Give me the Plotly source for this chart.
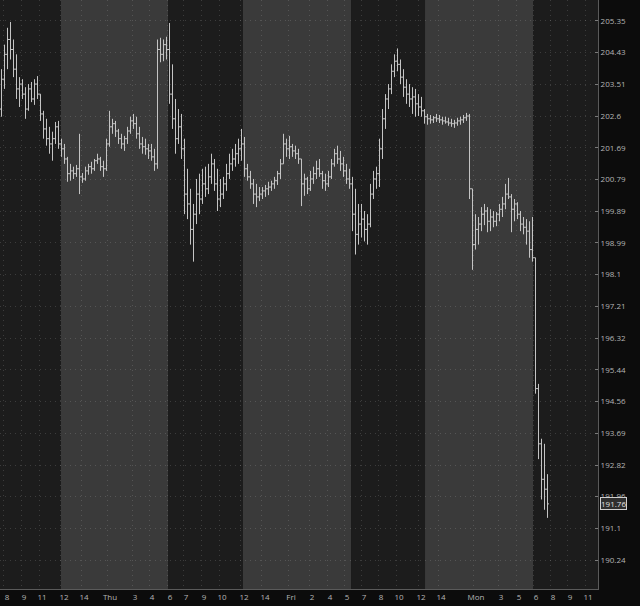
import numpy as np
import plotly.graph_objects as go

# OHLC bars, one entry per bar
bar_open = [
    202.80, 203.66, 204.38, 204.81, 204.52, 203.95, 203.38, 203.52, 203.23, 202.80,
    203.38, 203.09, 203.52, 203.23, 202.66, 202.23, 201.95, 201.80, 201.95, 202.29,
    201.80, 201.66, 201.37, 200.95, 201.03, 200.95, 201.09, 200.86, 200.80, 201.03,
    201.15, 201.09, 201.32, 201.37, 201.15, 201.09, 201.80, 202.29, 202.38, 202.17,
    201.95, 201.80, 201.95, 202.17, 202.46, 202.38, 202.09, 201.80, 201.72, 201.66,
    201.60, 201.43, 201.23, 204.52, 204.38, 204.66, 204.52, 203.23, 202.52, 201.95,
    202.29, 201.66, 200.37, 200.09, 199.37, 199.80, 200.37, 200.23, 200.66, 200.52,
    200.86, 201.23, 200.66, 200.23, 200.37, 200.66, 200.95, 201.23, 201.37, 201.52,
    201.66, 201.80, 201.09, 200.86, 200.66, 200.37, 200.29, 200.37, 200.46, 200.52,
    200.57, 200.66, 200.75, 200.95, 201.23, 201.80, 201.66, 201.72, 201.60, 201.52,
    201.37, 200.66, 200.80, 200.52, 200.80, 200.95, 201.09, 200.95, 200.75, 200.66,
    200.86, 201.23, 201.52, 201.37, 201.23, 201.03, 200.80, 200.66, 199.80, 199.23,
    199.52, 199.66, 199.37, 199.52, 200.37, 200.80, 200.95, 201.66, 202.52, 203.09,
    203.38, 203.89, 204.18, 204.09, 203.72, 203.43, 203.23, 203.09, 203.15, 202.95,
    202.86, 202.75, 202.58, 202.52, 202.49, 202.55, 202.52, 202.49, 202.46, 202.43,
    202.40, 202.38, 202.40, 202.46, 202.49, 202.55, 202.60, 200.52, 198.94, 199.37,
    199.52, 199.80, 199.89, 199.60, 199.72, 199.60, 199.80, 199.94, 200.09, 200.37,
    200.29, 199.94, 200.09, 199.80, 199.52, 199.43, 199.32, 198.80, 198.57, 194.92,
    193.40, 192.43, 192.16,
]
bar_high = [
    203.95, 204.66, 205.15, 205.32, 204.81, 204.38, 203.72, 203.66, 203.43, 203.52,
    203.58, 203.66, 203.75, 203.23, 202.75, 202.52, 202.29, 202.15, 202.43, 202.46,
    201.95, 201.80, 201.43, 201.23, 201.15, 201.20, 202.09, 200.97, 201.15, 201.23,
    201.29, 201.37, 201.52, 201.43, 201.32, 201.95, 202.75, 202.52, 202.46, 202.23,
    202.09, 202.03, 202.29, 202.58, 202.66, 202.58, 202.29, 202.00, 201.95, 201.80,
    201.80, 201.66, 204.81, 204.86, 204.81, 204.89, 205.29, 204.09, 203.09, 202.80,
    202.66, 201.95, 201.09, 200.52, 200.09, 200.80, 200.95, 201.09, 201.15, 201.23,
    201.52, 201.37, 201.09, 200.80, 200.86, 201.23, 201.52, 201.66, 201.80, 201.95,
    202.23, 202.00, 201.23, 201.03, 200.80, 200.66, 200.57, 200.57, 200.63, 200.72,
    200.75, 200.86, 201.03, 201.37, 202.09, 201.95, 202.03, 201.80, 201.75, 201.66,
    201.37, 200.95, 200.86, 201.03, 201.15, 201.32, 201.37, 201.03, 200.95, 201.03,
    201.37, 201.66, 201.75, 201.60, 201.43, 201.23, 201.09, 200.86, 200.52, 200.09,
    200.09, 199.89, 199.80, 200.66, 201.03, 201.15, 201.95, 202.80, 203.23, 203.52,
    204.09, 204.38, 204.55, 204.23, 203.95, 203.66, 203.52, 203.43, 203.38, 203.23,
    203.15, 202.80, 202.66, 202.63, 202.60, 202.66, 202.63, 202.58, 202.58, 202.55,
    202.52, 202.49, 202.55, 202.58, 202.63, 202.69, 202.66, 200.52, 199.80, 199.72,
    200.00, 200.09, 200.00, 199.94, 199.89, 199.86, 200.09, 200.29, 200.66, 200.83,
    200.37, 200.23, 200.14, 199.89, 199.72, 199.66, 199.60, 199.72, 198.57, 195.05,
    193.54, 193.40, 192.57,
]
bar_low = [
    202.58, 203.38, 203.95, 204.23, 203.72, 203.09, 202.86, 203.09, 202.52, 202.75,
    203.00, 202.92, 203.09, 202.46, 201.95, 201.75, 201.52, 201.32, 201.80, 201.66,
    201.43, 201.23, 200.72, 200.75, 200.80, 200.86, 200.37, 200.69, 200.75, 200.92,
    200.95, 201.03, 201.23, 201.03, 200.86, 201.03, 201.72, 202.09, 202.00, 201.80,
    201.66, 201.60, 201.80, 202.09, 202.23, 201.95, 201.66, 201.52, 201.49, 201.37,
    201.32, 201.03, 201.09, 204.15, 204.18, 204.23, 202.95, 202.23, 201.52, 201.80,
    201.37, 199.80, 199.66, 198.94, 198.46, 199.52, 199.80, 200.09, 200.29, 200.37,
    200.66, 200.46, 199.89, 200.00, 200.23, 200.46, 200.80, 201.03, 201.15, 201.23,
    201.32, 200.86, 200.75, 200.52, 200.09, 200.00, 200.17, 200.23, 200.29, 200.34,
    200.46, 200.52, 200.63, 200.80, 201.23, 201.43, 201.37, 201.43, 201.37, 201.23,
    200.03, 200.32, 200.37, 200.46, 200.66, 200.80, 200.86, 200.52, 200.46, 200.57,
    200.80, 201.15, 201.23, 201.03, 200.86, 200.66, 200.52, 199.32, 198.66, 198.94,
    199.14, 199.03, 198.94, 199.43, 200.23, 200.52, 200.57, 201.37, 202.23, 202.80,
    203.23, 203.72, 203.89, 203.52, 203.15, 202.95, 202.86, 202.66, 202.58, 202.60,
    202.58, 202.38, 202.35, 202.38, 202.40, 202.43, 202.40, 202.35, 202.38, 202.32,
    202.29, 202.26, 202.32, 202.35, 202.40, 202.46, 200.23, 198.23, 198.80, 198.94,
    199.32, 199.49, 199.29, 199.32, 199.43, 199.46, 199.60, 199.72, 199.94, 200.23,
    199.29, 199.60, 199.66, 199.32, 199.23, 198.94, 198.57, 198.46, 194.78, 192.98,
    191.88, 191.60, 191.38,
]
bar_close = [
    203.66, 204.38, 204.81, 204.52, 203.95, 203.38, 203.52, 203.23, 202.80, 203.38,
    203.09, 203.52, 203.23, 202.66, 202.23, 201.95, 201.80, 201.95, 202.29, 201.80,
    201.66, 201.37, 200.95, 201.03, 200.95, 201.09, 200.86, 200.80, 201.03, 201.15,
    201.09, 201.32, 201.37, 201.15, 201.09, 201.80, 202.29, 202.38, 202.17, 201.95,
    201.80, 201.95, 202.17, 202.46, 202.38, 202.09, 201.80, 201.72, 201.66, 201.60,
    201.43, 201.23, 204.52, 204.38, 204.66, 204.52, 203.23, 202.52, 201.95, 202.29,
    201.66, 200.37, 200.09, 199.37, 199.80, 200.37, 200.23, 200.66, 200.52, 200.86,
    201.23, 200.66, 200.23, 200.37, 200.66, 200.95, 201.23, 201.37, 201.52, 201.66,
    201.80, 201.09, 200.86, 200.66, 200.37, 200.29, 200.37, 200.46, 200.52, 200.57,
    200.66, 200.75, 200.95, 201.23, 201.80, 201.66, 201.72, 201.60, 201.52, 201.37,
    200.66, 200.80, 200.52, 200.80, 200.95, 201.09, 200.95, 200.75, 200.66, 200.86,
    201.23, 201.52, 201.37, 201.23, 201.03, 200.80, 200.66, 199.80, 199.23, 199.52,
    199.66, 199.37, 199.52, 200.37, 200.80, 200.95, 201.66, 202.52, 203.09, 203.38,
    203.89, 204.18, 204.09, 203.72, 203.43, 203.23, 203.09, 203.15, 202.95, 202.86,
    202.75, 202.58, 202.52, 202.49, 202.55, 202.52, 202.49, 202.46, 202.43, 202.40,
    202.38, 202.40, 202.46, 202.49, 202.55, 202.60, 200.52, 198.94, 199.37, 199.52,
    199.80, 199.89, 199.60, 199.72, 199.60, 199.80, 199.94, 200.09, 200.37, 200.29,
    199.94, 200.09, 199.80, 199.52, 199.43, 199.32, 198.80, 198.57, 194.92, 193.40,
    192.43, 192.16, 191.76,
]

# time axis labels (bar index positions)
time_ticks = [0.83, 6.5, 12.5, 19.83, 26.5, 35.17, 43.5, 49.17, 55.17, 60.5,
              66.5, 72.5, 79.83, 86.83, 95.5, 102.5, 108.5, 114.17, 119.83, 125.5,
              131.5, 138.83, 145.5, 157.17, 165.5, 171.5, 177.17, 182.83, 188.5, 194.5]
time_labels = ["8", "9", "11", "12", "14", "Thu", "3", "4", "6", "7",
               "9", "10", "12", "14", "Fri", "2", "4", "5", "7", "8",
               "10", "12", "14", "Mon", "3", "5", "6", "8", "9", "11"]

# extended-hours sessions (bar index start/end)
session_start = [19.83, 80.5, 141.17]
session_end = [55.5, 116.5, 177.17]

# price axis labels
price_ticks = [205.35, 204.43, 203.51, 202.6, 201.69, 200.79, 199.89, 198.99, 198.1,
               197.21, 196.32, 195.44, 194.56, 193.69, 192.82, 191.96, 191.1, 190.24]

bar_index = list(range(len(bar_close)))

fig = go.Figure(go.Ohlc(
    x=bar_index,
    open=bar_open,
    high=bar_high,
    low=bar_low,
    close=bar_close,
    increasing=dict(line=dict(color="#c4c4c4", width=1)),
    decreasing=dict(line=dict(color="#c4c4c4", width=1)),
    tickwidth=0.5,
    hoverinfo="skip",
))

for x0, x1 in zip(session_start, session_end):
    fig.add_shape(type="rect", xref="x", yref="paper", x0=x0, x1=x1, y0=0, y1=1,
                  fillcolor="#3a3a3a", line_width=0, layer="below")

fig.add_annotation(
    xref="paper", yref="y", x=1, y=np.log10(bar_close[-1]),
    xanchor="left", xshift=2, text=f"{bar_close[-1]:.2f}", showarrow=False,
    font=dict(size=8, color="#e0e0e0"), bgcolor="#2e2e2e",
    bordercolor="#cfcfcf", borderwidth=1, borderpad=0,
)

fig.update_layout(
    width=640, height=606,
    margin=dict(l=0, r=42, t=0, b=17),
    paper_bgcolor="#0c0c0c",
    plot_bgcolor="#1c1c1c",
    showlegend=False,
    font=dict(family="Open Sans", size=8, color="#b4b4b4"),
    xaxis=dict(
        range=[-0.5, 198.83],
        rangeslider=dict(visible=False),
        tickvals=time_ticks, ticktext=time_labels,
        ticks="", ticklabelshift=3,
        showgrid=True, gridcolor="rgba(255,255,255,0.14)", griddash="1px,4px",
        showline=True, linecolor="#5a5a5a", linewidth=1,
        zeroline=False, fixedrange=True,
    ),
    yaxis=dict(
        type="log", side="right",
        range=[np.log10(189.46), np.log10(205.96)],
        tickvals=price_ticks, ticktext=[f"{v:g}" for v in price_ticks],
        ticks="inside", ticklen=3, tickcolor="#7a7a7a",
        showgrid=True, gridcolor="rgba(255,255,255,0.14)", griddash="1px,4px",
        showline=True, linecolor="#5a5a5a", linewidth=1,
        zeroline=False, fixedrange=True,
    ),
)

fig.write_html(
    "out.html",
    config={"displayModeBar": False},
    post_script="document.body.style.margin='0';document.body.style.background='#0c0c0c';",
)
